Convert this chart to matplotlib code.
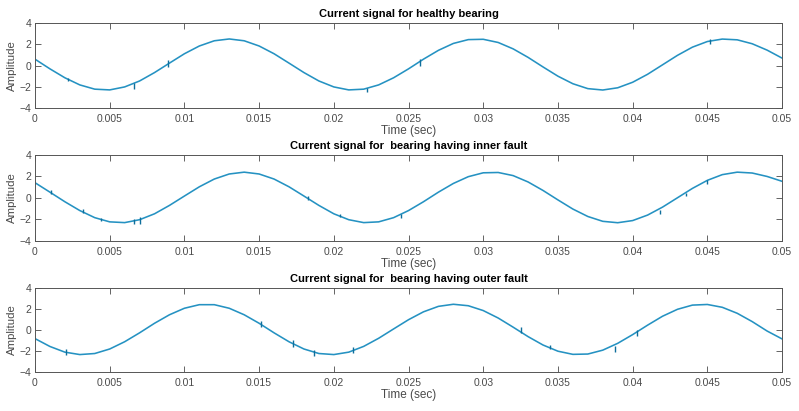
import numpy as np
import matplotlib
matplotlib.use("Agg")
import matplotlib.pyplot as plt

# --- Datos (muestras cada 1 ms) ---
time_ms = list(range(0, 51))

healthy = [0.60, -0.31, -1.15, -1.82, -2.22, -2.29, -2.01, -1.45, -0.66, 0.23,
           1.11, 1.84, 2.33, 2.50, 2.33, 1.84, 1.11, 0.23, -0.66, -1.45,
           -2.01, -2.29, -2.22, -1.82, -1.15, -0.31, 0.60, 1.43, 2.08, 2.44,
           2.47, 2.17, 1.57, 0.77, -0.13, -1.00, -1.71, -2.17, -2.30, -2.09,
           -1.57, -0.82, 0.07, 0.96, 1.73, 2.26, 2.49, 2.42, 2.05, 1.45, 0.70]

inner = [1.42, 0.54, -0.35, -1.17, -1.83, -2.22, -2.29, -2.02, -1.47, -0.69,
         0.18, 1.04, 1.76, 2.23, 2.40, 2.23, 1.76, 1.04, 0.18, -0.69,
         -1.47, -2.02, -2.29, -2.22, -1.83, -1.17, -0.35, 0.54, 1.35, 1.98,
         2.34, 2.37, 2.08, 1.49, 0.70, -0.18, -1.03, -1.72, -2.17, -2.30,
         -2.10, -1.59, -0.85, 0.02, 0.89, 1.64, 2.17, 2.40, 2.32, 2.00, 1.55]

outer = [-0.82, -1.57, -2.11, -2.34, -2.24, -1.81, -1.12, -0.27, 0.64, 1.45,
         2.07, 2.41, 2.41, 2.07, 1.45, 0.64, -0.27, -1.12, -1.81, -2.24,
         -2.34, -2.11, -1.56, -0.79, 0.10, 0.98, 1.73, 2.25, 2.45, 2.31,
         1.85, 1.14, 0.27, -0.63, -1.43, -2.02, -2.32, -2.29, -1.92, -1.27,
         -0.44, 0.46, 1.31, 1.97, 2.37, 2.43, 2.16, 1.59, 0.80, -0.10, -0.85]

# picos de ruido: tiempo (s), nivel, semialtura
healthy_spk_t = [0.0022, 0.0066, 0.0089, 0.0222, 0.0258, 0.0452]
healthy_spk_y = [-1.3, -1.9, 0.2, -2.3, 0.3, 2.25]
healthy_spk_h = [0.15, 0.3, 0.3, 0.15, 0.3, 0.2]

inner_spk_t = [0.0011, 0.0032, 0.0044, 0.0066, 0.0070, 0.0183, 0.0204, 0.0245, 0.0418, 0.0436, 0.0450]
inner_spk_y = [0.55, -1.2, -2.0, -2.2, -2.1, 0.0, -1.6, -1.7, -1.3, 0.3, 1.5]
inner_spk_h = [0.15, 0.15, 0.15, 0.2, 0.35, 0.15, 0.15, 0.2, 0.15, 0.15, 0.2]

outer_spk_t = [0.0021, 0.0151, 0.0173, 0.0187, 0.0213, 0.0325, 0.0345, 0.0388, 0.0403]
outer_spk_y = [-2.1, 0.6, -1.3, -2.2, -1.9, 0.0, -1.6, -1.8, -0.3]
outer_spk_h = [0.3, 0.3, 0.3, 0.3, 0.3, 0.3, 0.2, 0.3, 0.3]

titles = ["Current signal for healthy bearing",
          "Current signal for  bearing having inner fault",
          "Current signal for  bearing having outer fault"]

xtick_vals = [0, 0.005, 0.01, 0.015, 0.02, 0.025, 0.03, 0.035, 0.04, 0.045, 0.05]
xtick_labels = ["0", "0.005", "0.01", "0.015", "0.02", "0.025", "0.03",
                "0.035", "0.04", "0.045", "0.05"]
ytick_vals = [-4, -2, 0, 2, 4]

series = [(healthy, healthy_spk_t, healthy_spk_y, healthy_spk_h),
          (inner, inner_spk_t, inner_spk_y, inner_spk_h),
          (outer, outer_spk_t, outer_spk_y, outer_spk_h)]

t = np.array(time_ms) / 1000.0
line_color = "#2592c2"
grey = "#4a4a4a"

fig = plt.figure(figsize=(7.99, 4.11), dpi=100)
plt.rcParams['font.family'] = ['Liberation Sans', 'DejaVu Sans']

# posiciones [izq, abajo, ancho, alto]
positions = [[0.0438, 0.737, 0.935, 0.207],
             [0.0438, 0.4136, 0.935, 0.2094],
             [0.0438, 0.0949, 0.935, 0.2044]]

for pos, title, (y, st, sy, sh) in zip(positions, titles, series):
    ax = fig.add_axes(pos)
    ax.plot(t, y, color=line_color, lw=1.15, solid_joinstyle="round")
    ax.vlines(st, np.array(sy) - np.array(sh), np.array(sy) + np.array(sh),
              color="#0f6f9c", lw=1.0)
    ax.set_xlim(0, 0.05)
    ax.set_ylim(-4, 4)
    ax.set_xticks(xtick_vals)
    ax.set_xticklabels(xtick_labels)
    ax.set_yticks(ytick_vals)
    ax.tick_params(direction="in", length=4, width=0.6, top=True, right=True,
                   labelsize=7.5, colors=grey)
    ax.tick_params(axis="x", pad=4)
    ax.tick_params(axis="y", pad=2.5)
    for sp in ax.spines.values():
        sp.set_color("#555555")
        sp.set_linewidth(0.7)
    ax.set_title(title, fontsize=8, fontweight="bold", pad=4)
    ax.set_xlabel("Time (sec)", fontsize=8.5, color=grey, labelpad=1)
    ax.set_ylabel("Amplitude", fontsize=8.2, color=grey)
    ax.yaxis.set_label_coords(-0.0235, 0.5)

fig.savefig("out.png", dpi=100)
